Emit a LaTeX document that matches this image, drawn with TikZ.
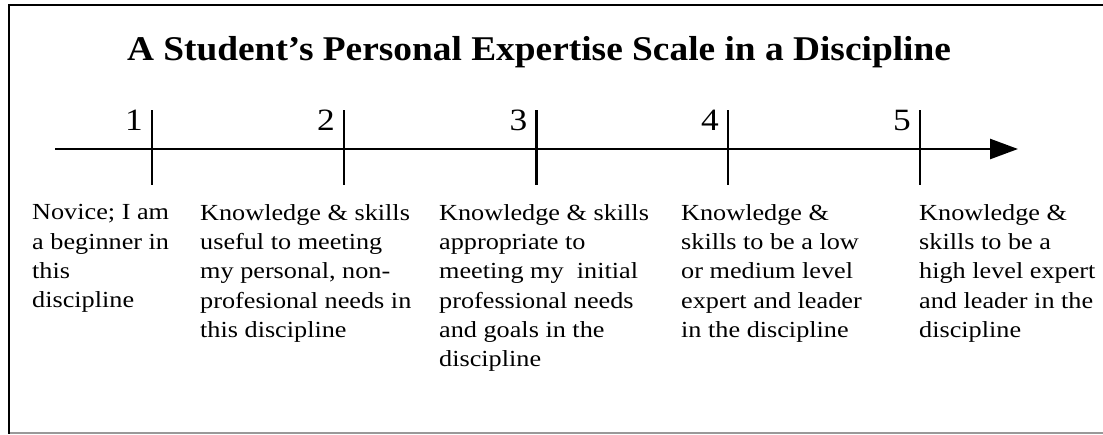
\documentclass[tikz,border=0pt]{standalone}
\usepackage{fontspec}
\setmainfont[FakeStretch=1.14]{Liberation Serif}
\newfontfamily\titlefont[FakeStretch=1.077]{Liberation Serif}
\usetikzlibrary{arrows.meta}
\tikzset{
  frame/.style={line width=2.5pt,black},
  framelow/.style={line width=1.5pt,gray!80},
  axisline/.style={line width=2.6pt,-{Triangle[length=28pt,width=20pt]}},
  tickline/.style={line width=2.6pt},
  ticknum/.style={anchor=base east,inner sep=0pt,font=\fontsize{31}{31}\selectfont},
  desc/.style={anchor=north west,inner sep=0pt,align=left,font=\fontsize{23}{29.3}\selectfont},
  titletext/.style={anchor=base,inner sep=0pt,font=\titlefont\bfseries\fontsize{34.7}{40}\selectfont}
}
\begin{document}
\begin{tikzpicture}[x=1pt,y=-1pt]
\useasboundingbox (0,0) rectangle (1103,434);
% frame
\coordinate (fTR) at (1103,5);
\coordinate (fTL) at (9,5);
\coordinate (fBL) at (9,434);
\coordinate (gL) at (9,433);
\coordinate (gR) at (1103,433);
\draw[framelow] (gL) -- (gR);
\draw[frame] (fTR) -- (fTL) -- (fBL);
% title
\node[titletext] (title) at (539,60) {A Student’s Personal Expertise Scale in a Discipline};
% axis
\coordinate (axS) at (55,149);
\coordinate (axE) at (1018,149);
\draw[axisline] (axS) -- (axE);
\foreach \i/\x in {1/152,2/344,3/536.5,4/728,5/920}{
  \coordinate (t\i) at (\x,110);
  \coordinate (b\i) at (\x,185);
  \draw[tickline] (t\i) -- (b\i);
  \node[ticknum] (n\i) at (\x-9,130) {\i};
}
% descriptions
\node[desc] (d1) at (32,204.5) {Novice; I am\\a beginner in\\this\\discipline};
\node[desc] (d2) at (200,204) {Knowledge \& skills\\useful to meeting\\my personal, non-\\profesional needs in\\this discipline};
\node[desc] (d3) at (439,204) {Knowledge \& skills\\appropriate to\\meeting my\ \ initial\\professional needs\\and goals in the\\discipline};
\node[desc] (d4) at (681,204) {Knowledge \&\\skills to be a low\\or medium level\\expert and leader\\in the discipline};
\node[desc] (d5) at (919,204) {Knowledge \&\\skills to be a\\high level expert\\and leader in the\\discipline};
\end{tikzpicture}
\end{document}
